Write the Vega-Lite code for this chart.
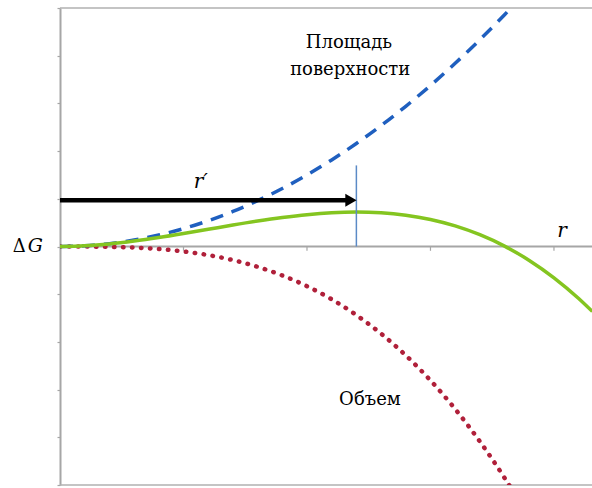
{
  "$schema": "https://vega.github.io/schema/vega-lite/v6.json",
  "autosize": "none",
  "width": 532,
  "height": 477,
  "padding": {"left": 60, "top": 8, "right": 0, "bottom": 3},
  "background": "white",
  "config": {
    "view": {"stroke": null},
    "axisY": {"domainColor": "#a6a6a6", "domainWidth": 2, "tickColor": "#a6a6a6", "tickSize": 3, "tickWidth": 1.2, "labels": false, "grid": false, "tickCount": 10, "title": null}
  },
  "datasets": {
    "curves": [
      {"r": 0, "S": 0, "V": 0, "T": 0},
      {"r": 0.2, "S": 0.015, "V": -0.001, "T": 0.014},
      {"r": 0.4, "S": 0.06, "V": -0.007, "T": 0.053},
      {"r": 0.6, "S": 0.135, "V": -0.022, "T": 0.113},
      {"r": 0.8, "S": 0.24, "V": -0.053, "T": 0.187},
      {"r": 1.0, "S": 0.375, "V": -0.104, "T": 0.271},
      {"r": 1.2, "S": 0.54, "V": -0.18, "T": 0.36},
      {"r": 1.4, "S": 0.735, "V": -0.285, "T": 0.45},
      {"r": 1.6, "S": 0.96, "V": -0.426, "T": 0.534},
      {"r": 1.8, "S": 1.215, "V": -0.607, "T": 0.608},
      {"r": 2.0, "S": 1.5, "V": -0.832, "T": 0.668},
      {"r": 2.2, "S": 1.815, "V": -1.107, "T": 0.708},
      {"r": 2.4, "S": 2.16, "V": -1.438, "T": 0.722},
      {"r": 2.6, "S": 2.535, "V": -1.828, "T": 0.707},
      {"r": 2.8, "S": 2.94, "V": -2.283, "T": 0.657},
      {"r": 3.0, "S": 3.375, "V": -2.808, "T": 0.567},
      {"r": 3.2, "S": 3.84, "V": -3.408, "T": 0.432},
      {"r": 3.4, "S": 4.335, "V": -4.088, "T": 0.247},
      {"r": 3.6, "S": 4.86, "V": -4.852, "T": 0.008},
      {"r": 3.8, "S": 5.415, "V": -5.707, "T": -0.292},
      {"r": 4.0, "S": 6.0, "V": -6.656, "T": -0.656},
      {"r": 4.2, "S": 6.615, "V": -7.705, "T": -1.09},
      {"r": 4.31, "S": 6.966, "V": -8.326, "T": -1.36}
    ]
  },
  "layer": [
    {
      "data": {"values": [{"y": 5}, {"y": -5}]},
      "mark": {"type": "rule", "color": "#b0b0b0", "strokeWidth": 1.5},
      "encoding": {"y": {"field": "y", "type": "quantitative", "scale": {"domain": [-5, 5]}, "title": null}}
    },
    {
      "data": {"values": [{"y": 0}]},
      "mark": {"type": "rule", "color": "#a6a6a6", "strokeWidth": 2},
      "encoding": {"y": {"field": "y", "type": "quantitative", "title": null}}
    },
    {
      "data": {"values": [{"x": 1, "y": 0, "y2": -0.09}, {"x": 2, "y": 0, "y2": -0.09}, {"x": 3, "y": 0, "y2": -0.09}, {"x": 4, "y": 0, "y2": -0.09}]},
      "mark": {"type": "rule", "color": "#a6a6a6", "strokeWidth": 1.2},
      "encoding": {
        "x": {"field": "x", "type": "quantitative", "scale": {"domain": [0, 4.308], "nice": false}, "axis": null},
        "y": {"field": "y", "type": "quantitative", "title": null},
        "y2": {"field": "y2"}
      }
    },
    {
      "data": {"name": "curves"},
      "mark": {"type": "line", "color": "#b0203a", "strokeWidth": 4.5, "strokeDash": [0.5, 8.5], "strokeCap": "round", "interpolate": "monotone", "clip": true},
      "encoding": {
        "x": {"field": "r", "type": "quantitative", "axis": null},
        "y": {"field": "V", "type": "quantitative", "title": null}
      }
    },
    {
      "data": {"name": "curves"},
      "mark": {"type": "line", "color": "#1f5fbf", "strokeWidth": 3.5, "strokeDash": [13, 9], "interpolate": "monotone", "clip": true},
      "encoding": {
        "x": {"field": "r", "type": "quantitative", "axis": null},
        "y": {"field": "S", "type": "quantitative", "title": null}
      }
    },
    {
      "data": {"name": "curves"},
      "mark": {"type": "line", "color": "#84c520", "strokeWidth": 3.5, "interpolate": "monotone", "clip": true},
      "encoding": {
        "x": {"field": "r", "type": "quantitative", "axis": null},
        "y": {"field": "T", "type": "quantitative", "title": null}
      }
    },
    {
      "data": {"values": [{"x": 2.4, "y": 0, "y2": 1.7}]},
      "mark": {"type": "rule", "color": "#5b8ac6", "strokeWidth": 1.5},
      "encoding": {
        "x": {"field": "x", "type": "quantitative", "axis": null},
        "y": {"field": "y", "type": "quantitative", "title": null},
        "y2": {"field": "y2"}
      }
    },
    {
      "data": {"values": [{"x": 0, "x2": 2.33, "y": 0.97}]},
      "mark": {"type": "rule", "color": "black", "strokeWidth": 4.5},
      "encoding": {
        "x": {"field": "x", "type": "quantitative", "axis": null},
        "x2": {"field": "x2"},
        "y": {"field": "y", "type": "quantitative", "title": null}
      }
    },
    {
      "data": {"values": [{"x": 2.356, "y": 0.97}]},
      "mark": {"type": "point", "shape": "triangle-right", "filled": true, "color": "black", "size": 170, "opacity": 1},
      "encoding": {
        "x": {"field": "x", "type": "quantitative", "axis": null},
        "y": {"field": "y", "type": "quantitative", "title": null}
      }
    },
    {
      "data": {"values": [
        {"x": 2.34, "y": 4.16, "label": "Площадь"},
        {"x": 2.35, "y": 3.6, "label": "поверхности"},
        {"x": 2.51, "y": -3.32, "label": "Объем"}
      ]},
      "mark": {"type": "text", "font": "DejaVu Serif", "fontSize": 18, "align": "center", "baseline": "alphabetic", "color": "black"},
      "encoding": {
        "x": {"field": "x", "type": "quantitative", "axis": null},
        "y": {"field": "y", "type": "quantitative", "title": null},
        "text": {"field": "label"}
      }
    },
    {
      "data": {"values": [
        {"x": 1.14, "y": 1.23, "label": "r′"},
        {"x": 4.065, "y": 0.2, "label": "r"}
      ]},
      "mark": {"type": "text", "font": "DejaVu Serif", "fontSize": 20, "fontStyle": "italic", "align": "center", "baseline": "alphabetic", "color": "black"},
      "encoding": {
        "x": {"field": "x", "type": "quantitative", "axis": null},
        "y": {"field": "y", "type": "quantitative", "title": null},
        "text": {"field": "label"}
      }
    },
    {
      "data": {"values": [{"x": -0.33, "y": -0.115, "label": "Δ"}]},
      "mark": {"type": "text", "font": "DejaVu Serif", "fontSize": 18, "align": "center", "baseline": "alphabetic", "color": "black"},
      "encoding": {
        "x": {"field": "x", "type": "quantitative", "axis": null},
        "y": {"field": "y", "type": "quantitative", "title": null},
        "text": {"field": "label"}
      }
    },
    {
      "data": {"values": [{"x": -0.2, "y": -0.115, "label": "G"}]},
      "mark": {"type": "text", "font": "DejaVu Serif", "fontSize": 19, "fontStyle": "italic", "align": "center", "baseline": "alphabetic", "color": "black"},
      "encoding": {
        "x": {"field": "x", "type": "quantitative", "axis": null},
        "y": {"field": "y", "type": "quantitative", "title": null},
        "text": {"field": "label"}
      }
    }
  ]
}
